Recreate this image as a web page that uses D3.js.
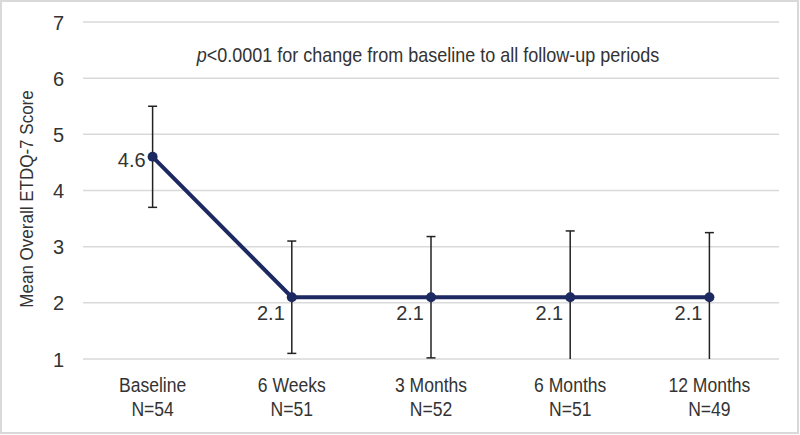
<!DOCTYPE html>
<html>
<head>
<meta charset="utf-8">
<script src="https://cdn.jsdelivr.net/npm/d3@7"></script>
<style>
  body { margin: 0; background: #fff; }
  svg { display: block; font-family: "Liberation Sans", Arial, sans-serif; }
</style>
</head>
<body>
<script>
// chart data
const periods = ["Baseline", "6 Weeks", "3 Months", "6 Months", "12 Months"];
const counts = ["N=54", "N=51", "N=52", "N=51", "N=49"];
const means = [4.6, 2.1, 2.1, 2.1, 2.1];
const errUp = [0.9, 1.0, 1.08, 1.18, 1.15];
const errDown = [0.9, 1.0, 1.08, 1.18, 1.15];
const yTicks = [1, 2, 3, 4, 5, 6, 7];

const W = 800, H = 435;
const margin = { top: 22, right: 21, bottom: 76, left: 83 };
const txtColor = "#333";

const svg = d3.select("body").append("svg")
  .attr("width", W)
  .attr("height", H);

// helper: text placed at (x, y), optionally squeezed horizontally
function label(parent, x, y, str, size, anchor, sx) {
  return parent.append("text")
    .attr("transform", `translate(${x},${y}) scale(${sx || 1},1)`)
    .attr("text-anchor", anchor || "middle")
    .attr("font-size", size)
    .attr("fill", txtColor)
    .text(str);
}

// outer frame
svg.append("rect")
  .attr("x", 1).attr("y", 1)
  .attr("width", W - 3).attr("height", H - 3)
  .attr("fill", "#fff")
  .attr("stroke", "#d9d9d9")
  .attr("stroke-width", 2);

const x = d3.scaleBand().domain(periods)
  .range([margin.left, W - margin.right]);

const y = d3.scaleLinear().domain([1, 7])
  .range([H - margin.bottom, margin.top]);

// gridlines
svg.append("g").selectAll("line")
  .data(yTicks)
  .enter()
  .append("line")
  .attr("x1", margin.left)
  .attr("x2", W - margin.right)
  .attr("y1", d => y(d))
  .attr("y2", d => y(d))
  .attr("stroke", "#d9d9d9")
  .attr("stroke-width", 1.5);

// y axis tick labels
const yAxis = svg.append("g")
  .call(d3.axisLeft(y).tickValues(yTicks).tickSize(0));
yAxis.select(".domain").remove();
yAxis.selectAll("text").remove();
yAxis.selectAll(".tick").each(function (d) {
  label(d3.select(this), 64, 7, d3.format("d")(d), 20, "end");
});

// y axis title
svg.append("text")
  .attr("transform", `translate(33,199) rotate(-90) scale(0.92,1)`)
  .attr("text-anchor", "middle")
  .attr("font-size", 18.5)
  .attr("fill", txtColor)
  .text("Mean Overall ETDQ-7 Score");

// x axis labels (two lines)
const xAxis = svg.append("g")
  .attr("transform", `translate(0,${H - margin.bottom})`)
  .call(d3.axisBottom(x).tickSize(0));
xAxis.select(".domain").remove();
xAxis.selectAll("text").remove();
xAxis.selectAll(".tick").each(function (d, i) {
  const g = d3.select(this);
  label(g, 0, 33, d, 19.5, "middle", 0.9);
  label(g, 0, 57, counts[i], 19.5, "middle", 0.9);
});

const cx = d => x(d) + x.bandwidth() / 2;

// error bars
const eb = svg.append("g").attr("stroke", "#222").attr("stroke-width", 1.5);
periods.forEach((p, i) => {
  const hi = means[i] + errUp[i];
  const lo = means[i] - errDown[i];
  const loC = Math.max(lo, 1);
  eb.append("line")
    .attr("x1", cx(p)).attr("x2", cx(p))
    .attr("y1", y(hi)).attr("y2", y(loC));
  eb.append("line")
    .attr("x1", cx(p) - 4.5).attr("x2", cx(p) + 4.5)
    .attr("y1", y(hi)).attr("y2", y(hi));
  if (lo >= 1) {
    eb.append("line")
      .attr("x1", cx(p) - 4.5).attr("x2", cx(p) + 4.5)
      .attr("y1", y(lo)).attr("y2", y(lo));
  }
});

// line
const line = d3.line()
  .x((d, i) => cx(periods[i]))
  .y(d => y(d));

svg.append("path")
  .datum(means)
  .attr("d", line)
  .attr("fill", "none")
  .attr("stroke", "#1d2a62")
  .attr("stroke-width", 4);

svg.append("g").selectAll("circle")
  .data(means)
  .enter()
  .append("circle")
  .attr("cx", (d, i) => cx(periods[i]))
  .attr("cy", d => y(d))
  .attr("r", 5)
  .attr("fill", "#1d2a62");

// data labels
const dl = svg.append("g");
means.forEach((d, i) => {
  const dy = i === 0 ? 10 : 23;
  label(dl, cx(periods[i]) - 7, y(d) + dy, d.toFixed(1), 20, "end");
});

// annotation
const note = svg.append("text")
  .attr("transform", `translate(428,62) scale(0.9,1)`)
  .attr("text-anchor", "middle")
  .attr("font-size", 20)
  .attr("fill", txtColor);
note.append("tspan").attr("font-style", "italic").text("p");
note.append("tspan").text("<0.0001 for change from baseline to all follow-up periods");
</script>
</body>
</html>
